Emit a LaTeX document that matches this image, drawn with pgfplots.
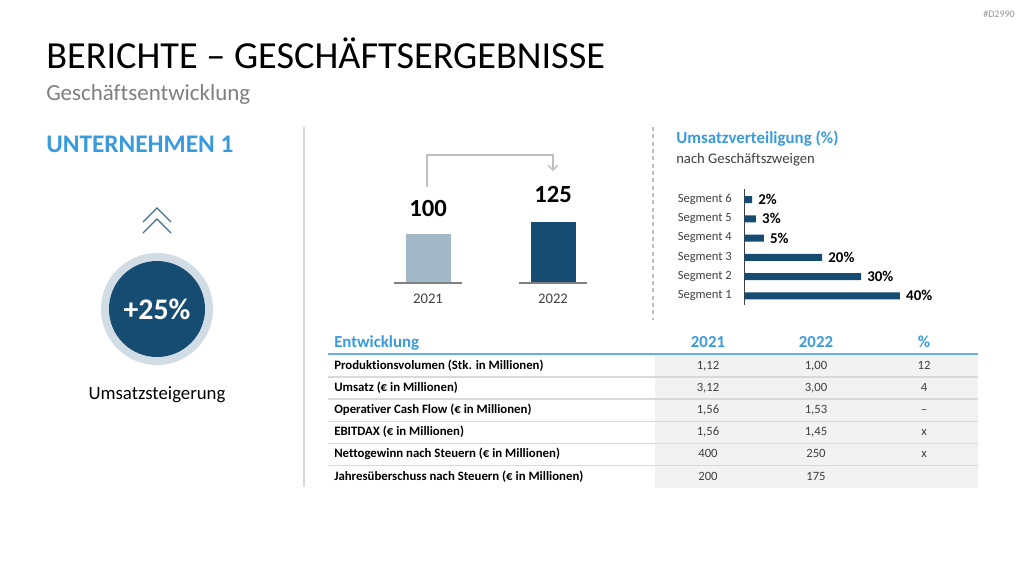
\documentclass[border=0pt]{standalone}
\usepackage{fontspec}
\setmainfont{Carlito}[Ligatures=NoCommon]
\usepackage{pgfplots}
\pgfplotsset{compat=1.18}
\usetikzlibrary{arrows.meta}

\definecolor{navy}{HTML}{164C72}
\definecolor{paleblue}{HTML}{A3B8C7}
\definecolor{ringblue}{HTML}{D2DCE4}
\definecolor{headblue}{HTML}{3A9BDC}
\definecolor{ruleblue}{HTML}{64B0E4}
\definecolor{subgray}{HTML}{7F7F7F}
\definecolor{rowgray}{HTML}{F2F2F2}
\definecolor{linegray}{HTML}{D9D9D9}
\definecolor{numgray}{HTML}{404040}

\newcommand\fs[1]{\fontsize{#1}{#1}\selectfont}

\begin{document}
\begin{tikzpicture}[x=0.75pt,y=-0.75pt]
\fill[white] (0,0) rectangle (1024,576);
\useasboundingbox (0,0) rectangle (1024,576);

% --- slide header
\node[anchor=base west, inner sep=0, font=\fs{28.7}] at (46,68) {BERICHTE – GESCHÄFTSERGEBNISSE};
\node[anchor=base west, inner sep=0, font=\fs{17.2}, text=subgray] at (46,100) {Geschäftsentwicklung};
\node[anchor=base east, inner sep=0, font=\fs{7.5}, text=subgray!80] at (1015,17) {\#D2990};

% --- left panel: company and growth badge
\node[anchor=base west, inner sep=0, font=\bfseries\fs{19}, text=headblue] at (46,152) {UNTERNEHMEN 1};
\draw[navy!80, line width=0.9pt] (143,222) -- (157,208) -- (171,222);
\draw[navy!80, line width=0.9pt] (143,233) -- (157,219) -- (171,233);
\fill[ringblue] (157,309) circle[radius=56];
\fill[navy] (157,309) circle[radius=48];
\node[font=\bfseries\fs{22.4}, text=white, inner sep=0] at (157,309) {+25\%};
\node[font=\fs{14.1}, inner sep=0, anchor=base] at (157,399) {Umsatzsteigerung};

% --- separators
\draw[linegray, line width=1.2pt] (304,127) -- (304,487);
\draw[gray!50, line width=0.9pt, dash pattern=on 3pt off 2.5pt] (653,127) -- (653,320);

% --- year comparison
\draw[gray!50, line width=1pt, -{Straight Barb[length=3.5pt,width=7pt]}] (427,187) -- (427,155) -- (553,155) -- (553,171);

\begin{axis}[
  at={(365.5*0.75pt,-282.7*0.75pt)}, anchor=south west,
  scale only axis, width=187.5pt, height=54.45pt,
  xmin=-0.5, xmax=1.5, ymin=0, ymax=150,
  axis line style={draw=none}, clip=false,
  xtick={0,1}, xticklabels={2021,2022}, ytick=\empty,
  major tick length=0pt,
  xticklabel style={font=\fs{11}, text=numgray, inner sep=0, anchor=center, yshift=-12pt},
  ybar, bar width=33.75pt, bar shift=0pt,
  /pgf/number format/assume math mode=true,
  nodes near coords,
]
\addplot[fill=paleblue, draw=none,
  every node near coord/.append style={font=\bfseries\fs{18.5}, text=black, inner sep=0, anchor=center, yshift=19.5pt}]
  coordinates {(0,100)};
\addplot[fill=navy, draw=none,
  every node near coord/.append style={font=\bfseries\fs{18.5}, text=black, inner sep=0, anchor=center, yshift=21pt}]
  coordinates {(1,125)};
\draw[gray, line width=1.5pt] (axis cs:-0.272,0) -- (axis cs:0.272,0);
\draw[gray, line width=1.5pt] (axis cs:0.728,0) -- (axis cs:1.272,0);
\end{axis}

% --- revenue split by segment
\node[anchor=base west, inner sep=0, font=\bfseries\fs{12.7}, text=headblue] at (676,143.5) {Umsatzverteiligung (\%)};
\node[anchor=base west, inner sep=0, font=\fs{11}, text=numgray] at (676,163) {nach Geschäftszweigen};

\begin{axis}[
  at={(744.3*0.75pt,-305*0.75pt)}, anchor=south west,
  scale only axis, width=145.9pt, height=87pt,
  xmin=0, xmax=50, ymin=0.52, ymax=6.545,
  axis x line=none, axis y line*=left,
  y axis line style={numgray, line width=0.8pt, -},
  xtick=\empty, ytick={1,...,6},
  yticklabels={Segment 1,Segment 2,Segment 3,Segment 4,Segment 5,Segment 6},
  major tick length=0pt,
  yticklabel style={font=\fs{9.4}, text=numgray, inner sep=0, anchor=east, xshift=-9.2pt},
  xbar, bar width=5.25pt, bar shift=0pt, clip=false,
  /pgf/number format/assume math mode=true,
  nodes near coords={\pgfmathprintnumber{\pgfplotspointmeta}\%},
]
\addplot[fill=navy, draw=none,
  every node near coord/.append style={font=\bfseries\fs{11.2}, text=black, inner sep=0, anchor=west, xshift=4.5pt}]
  coordinates {(40,1) (30,2) (20,3) (5,4) (3,5) (2,6)};
\end{axis}

% --- key figures table
\fill[rowgray] (655,355) rectangle (978,488);
\foreach \y in {377,399,421.5,443.5,465.5}
  \draw[linegray, line width=1.1pt] (328,\y) -- (978,\y);
\draw[ruleblue, line width=1.5pt] (328,354) -- (978,354);

\node[anchor=base west, inner sep=0, font=\bfseries\fs{12.6}, text=headblue] at (334,347) {Entwicklung};
\foreach \x/\t in {708/2021,816/2022,924/\%}
  \node[anchor=base, inner sep=0, font=\bfseries\fs{12.6}, text=headblue] at (\x,347) {\t};

\foreach \y/\lab/\a/\b/\c in {
  369.5/Produktionsvolumen (Stk. in Millionen)/{1,12}/{1,00}/12,
  391.5/Umsatz (€ in Millionen)/{3,12}/{3,00}/4,
  413.8/Operativer Cash Flow (€ in Millionen)/{1,56}/{1,53}/–,
  435.8/EBITDAX (€ in Millionen)/{1,56}/{1,45}/x,
  457.8/Nettogewinn nach Steuern (€ in Millionen)/400/250/x,
  480.5/Jahresüberschuss nach Steuern (€ in Millionen)/200/175/{}}{
  \node[anchor=base west, inner sep=0, font=\bfseries\fs{9.6}] at (334,\y) {\lab};
  \node[anchor=base, inner sep=0, font=\fs{9.5}, text=numgray] at (708,\y) {\a};
  \node[anchor=base, inner sep=0, font=\fs{9.5}, text=numgray] at (816,\y) {\b};
  \node[anchor=base, inner sep=0, font=\fs{9.5}, text=numgray] at (924,\y) {\c};
}
\end{tikzpicture}
\end{document}
